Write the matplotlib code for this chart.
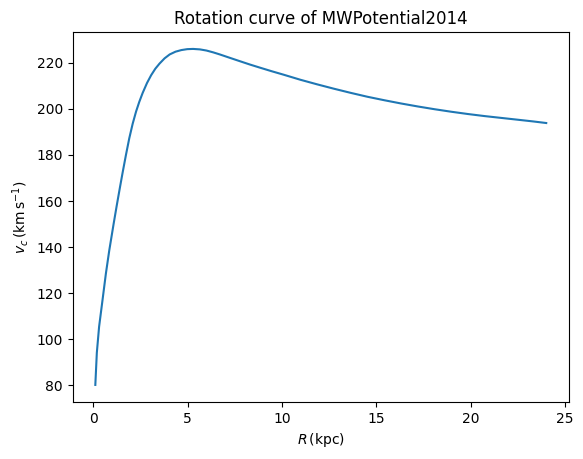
import matplotlib
matplotlib.use("Agg")
import matplotlib.pyplot as plt

# values
R_kpc = [0.1, 0.18, 0.30, 0.48, 0.66, 0.84, 1.07, 1.23, 1.40, 1.55, 1.72, 1.90,
         2.08, 2.26, 2.43, 2.61, 2.84, 3.06, 3.28, 3.50, 3.77, 4.04, 4.35, 4.66,
         4.97, 5.28, 5.64, 5.99, 6.35, 6.70, 7.24, 7.75, 8.30, 8.81, 9.45, 10.08,
         10.97, 11.86, 12.75, 13.64, 14.53, 15.42, 16.30, 17.19, 18.08, 18.97,
         19.86, 20.75, 21.64, 22.53, 23.30, 24.0]
vc = [80.0, 94.0, 105.3, 116.8, 128.4, 138.5, 150.0, 157.7, 165.6, 172.4, 179.8, 187.2,
      193.5, 198.8, 203.0, 206.9, 211.2, 214.6, 217.4, 219.6, 221.9, 223.6, 224.8, 225.5,
      225.9, 226.0, 225.8, 225.3, 224.5, 223.6, 222.1, 220.7, 219.2, 217.9, 216.3, 214.8,
      212.6, 210.6, 208.7, 206.9, 205.2, 203.7, 202.3, 201.0, 199.8, 198.7,
      197.7, 196.8, 196.0, 195.2, 194.5, 193.8]

fig, ax = plt.subplots(figsize=(6.4, 4.8), dpi=100)
ax.plot(R_kpc, vc, color="#1f77b4")
ax.set_xlabel(r"$R\,(\mathrm{kpc})$")
ax.set_ylabel(r"$v_c\,(\mathrm{km\,s^{-1}})$")
ax.set_title("Rotation curve of MWPotential2014")
plt.savefig("out.png", dpi=100, bbox_inches="tight")
plt.close()
